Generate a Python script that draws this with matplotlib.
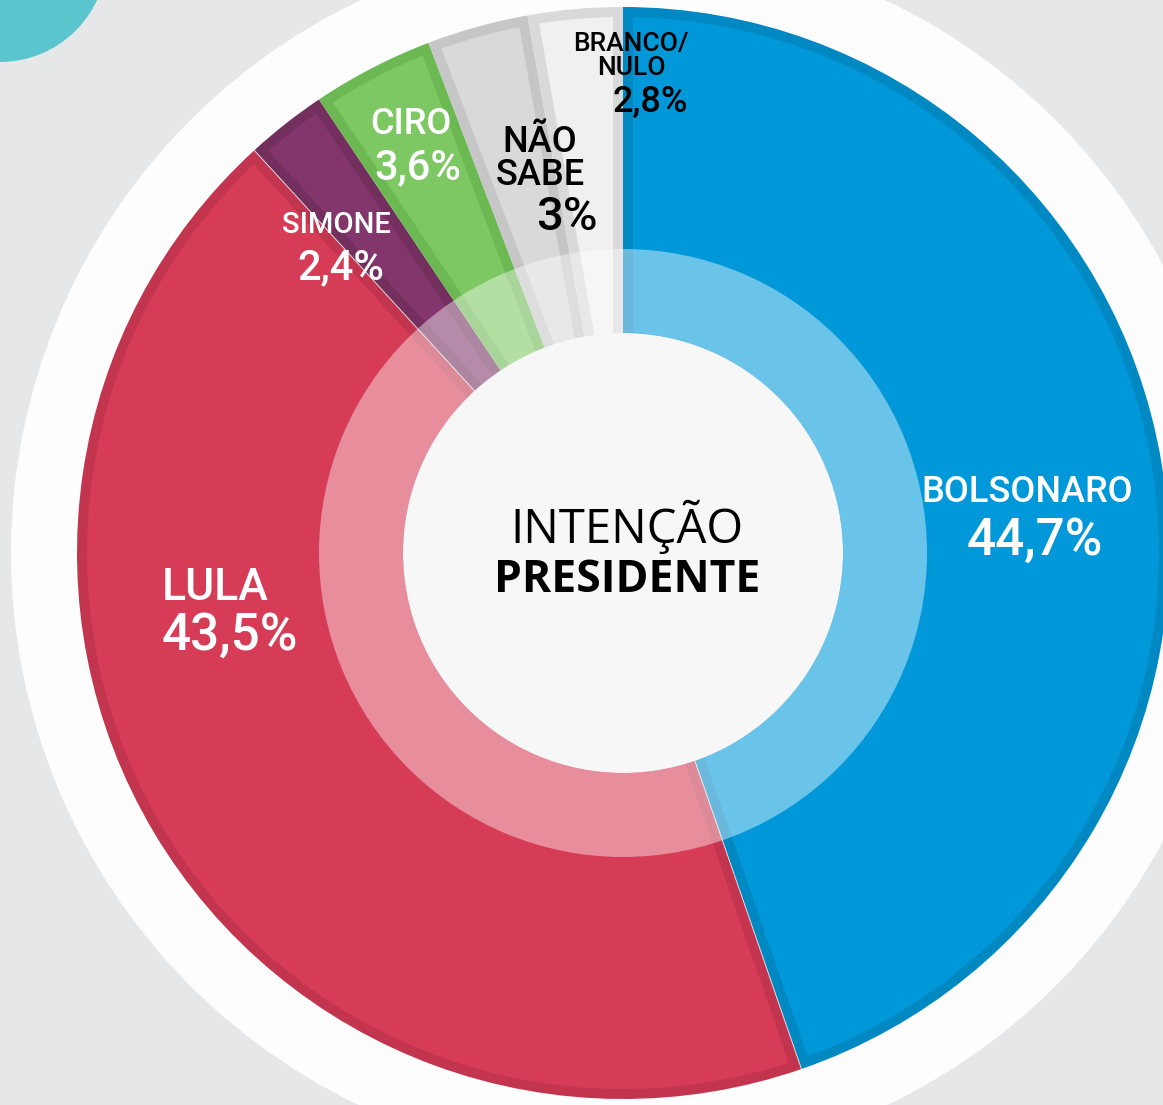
import matplotlib
matplotlib.use("Agg")
import numpy as np
import matplotlib.pyplot as plt
from matplotlib.patches import Circle, Wedge, Polygon

# --- dados ---
candidatos = ["BOLSONARO", "LULA", "SIMONE", "CIRO", "NÃO\nSABE", "BRANCO/\nNULO"]
valores = [44.7, 43.5, 2.4, 3.6, 3.0, 2.8]
rotulos_pct = ["44,7%", "43,5%", "2,4%", "3,6%", "3%", "2,8%"]

cores = ["#0098d8", "#d63c56", "#83366b", "#7dc862", "#d9d9d9", "#f0f0f0"]
bordas = ["#0088c3", "#c3354e", "#73305e", "#6cb853", "#c6c6c6", "#d9d9d9"]

# --- geometria (em pixels) ---
W, H = 1163, 1105
CX, CY = 623, H - 553
R_EXT = 546
R_INT = 190
R_LUZ = 304
R_CENTRO = 220
BORDA = 10

fig = plt.figure(figsize=(W / 100, H / 100), dpi=100)
fig.patch.set_facecolor("#e6e7e9")
ax = fig.add_axes([0, 0, 1, 1])

# fundo: círculo branco grande e bolinha turquesa no canto
ax.add_patch(Circle((CX, CY), 612, facecolor="#fdfdfd", edgecolor="none", zorder=0))
ax.add_patch(Circle((0, H + 45), 107, facecolor="#5bc5ce", edgecolor="none", zorder=0))

# fatias na cor da borda
wedges, _ = ax.pie(valores, colors=bordas, startangle=90, counterclock=False,
                   center=(CX, CY), radius=R_EXT, frame=True,
                   wedgeprops=dict(width=R_EXT - R_INT, linewidth=0))

# miolo de cada fatia na cor principal, recuado BORDA px para dentro
def fatia_recuada(w, b):
    t1, t2 = np.deg2rad(w.theta1), np.deg2rad(w.theta2)
    ro, ri = w.r - b, w.r - w.width + b
    do, di = np.arcsin(b / ro), np.arcsin(b / ri)
    ang_o = np.linspace(t1 + do, t2 - do, 200)
    ang_i = np.linspace(t2 - di, t1 + di, 60)
    xs = np.concatenate([CX + ro * np.cos(ang_o), CX + ri * np.cos(ang_i)])
    ys = np.concatenate([CY + ro * np.sin(ang_o), CY + ri * np.sin(ang_i)])
    return np.column_stack([xs, ys])

for w, c in zip(wedges, cores):
    ax.add_patch(Polygon(fatia_recuada(w, BORDA), closed=True, facecolor=c,
                         edgecolor="none", zorder=2))

# fio claro entre LULA e vizinhos
for w in wedges[1:3]:
    a = np.deg2rad(w.theta2)
    ax.plot([CX + R_INT * np.cos(a), CX + R_EXT * np.cos(a)],
            [CY + R_INT * np.sin(a), CY + R_EXT * np.sin(a)],
            color="#f2f2f2", lw=0.7, alpha=0.8, zorder=3)

# anel interno mais claro
ax.add_patch(Wedge((CX, CY), R_LUZ, 0, 360, width=R_LUZ - R_CENTRO,
                   facecolor="white", alpha=0.42, edgecolor="none", zorder=4))
# miolo
ax.add_patch(Circle((CX, CY), R_CENTRO, facecolor="#f7f7f7", edgecolor="none", zorder=5))

ax.set_xlim(0, W)
ax.set_ylim(0, H)
ax.set_aspect("equal")
ax.axis("off")

fonte = "Roboto"

def rotulo(x, y, txt, size, color, weight="medium", ls=0.95):
    ax.text(x, H - y, txt, ha="center", va="center", fontsize=size, color=color,
            fontfamily=fonte, fontweight=weight, linespacing=ls, zorder=6)

# posições dos rótulos (pixels da imagem)
rotulo(1027, 492, candidatos[0], 26, "white")
rotulo(1035, 541, rotulos_pct[0], 37, "white")
rotulo(215, 588, candidatos[1], 32, "white")
rotulo(230, 636, rotulos_pct[1], 37, "white")
rotulo(336, 225, candidatos[2], 21, "white")
rotulo(341, 268, rotulos_pct[2], 30, "white")
rotulo(411, 124, candidatos[3], 26, "white")
rotulo(418, 168, rotulos_pct[3], 30, "white")
rotulo(540, 159, candidatos[4], 26, "black")
rotulo(567, 217, rotulos_pct[4], 34, "black")
rotulo(631, 56, candidatos[5], 19, "black")
rotulo(650, 102, rotulos_pct[5], 26, "black")

ax.text(627, H - 527, "INTENÇÃO", ha="center", va="center", fontsize=34,
        fontfamily="Open Sans", color="black", zorder=6)
ax.text(627, H - 580, "PRESIDENTE", ha="center", va="center", fontsize=32,
        fontfamily="Open Sans", fontweight="bold", color="black", zorder=6)

fig.savefig("out.png", dpi=100, facecolor=fig.get_facecolor())
